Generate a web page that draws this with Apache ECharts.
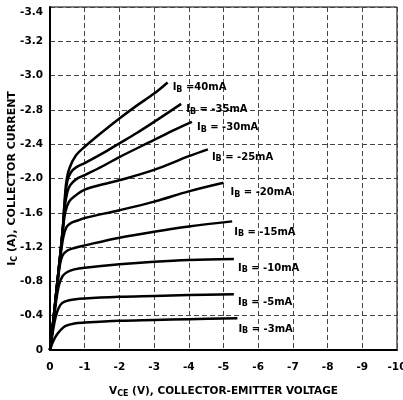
<!DOCTYPE html>
<html>
<head>
<meta charset="utf-8">
<script src="https://cdn.jsdelivr.net/npm/echarts@6/dist/echarts.min.js"></script>
<style>html,body{margin:0;padding:0;background:#fff}#c{width:403px;height:400px}</style>
</head>
<body>
<div id="c"></div>
<script>
// Tick labels as printed on the chart
const xTickLabels = ['0','-1','-2','-3','-4','-5','-6','-7','-8','-9','-10'];
const yTickLabels = ['0','-0.4','-0.8','-1.2','-1.6','-2.0','-2.4','-2.8','-3.0','-3.2','-3.4'];

// Base-current curve names (label text after "I" + subscript "B")
const curveNames = [' =40mA',' = -35mA',' = -30mA',' = -25mA',' = -20mA',' = -15mA',' = -10mA',' = -5mA',' = -3mA'];

// [VCE (V), IC (A)] points
const ib40 = [[0,0],[-0.1,-0.36],[-0.2,-0.75],[-0.3,-1.13],[-0.37,-1.42],[-0.42,-1.73],[-0.47,-1.96],[-0.56,-2.12],[-0.75,-2.27],[-1,-2.37],[-1.5,-2.54],[-2,-2.70],[-2.5,-2.85],[-3,-2.99],[-3.39,-3.12]];
const ib35 = [[0,0],[-0.1,-0.36],[-0.2,-0.75],[-0.3,-1.13],[-0.37,-1.42],[-0.42,-1.70],[-0.5,-1.97],[-0.6,-2.07],[-0.75,-2.13],[-1,-2.18],[-1.5,-2.29],[-2,-2.41],[-2.5,-2.53],[-3,-2.66],[-3.78,-2.87]];
const ib30 = [[0,0],[-0.1,-0.36],[-0.2,-0.75],[-0.3,-1.13],[-0.37,-1.42],[-0.43,-1.68],[-0.5,-1.84],[-0.58,-1.92],[-0.75,-1.99],[-1,-2.04],[-1.5,-2.14],[-2,-2.25],[-3,-2.45],[-3.6,-2.57],[-4.09,-2.66]];
const ib25 = [[0,0],[-0.1,-0.36],[-0.2,-0.75],[-0.3,-1.12],[-0.38,-1.44],[-0.45,-1.62],[-0.55,-1.73],[-0.7,-1.79],[-1,-1.87],[-1.5,-1.93],[-2,-1.98],[-3,-2.10],[-4,-2.26],[-4.55,-2.34]];
const ib20 = [[0,0],[-0.1,-0.35],[-0.2,-0.74],[-0.3,-1.08],[-0.38,-1.31],[-0.47,-1.43],[-0.6,-1.48],[-0.8,-1.51],[-1,-1.54],[-2,-1.63],[-3,-1.73],[-4,-1.85],[-5,-1.95]];
const ib15 = [[0,0],[-0.1,-0.34],[-0.2,-0.71],[-0.28,-0.98],[-0.36,-1.10],[-0.5,-1.16],[-0.7,-1.19],[-1,-1.22],[-2,-1.31],[-3,-1.38],[-4,-1.44],[-5.25,-1.50]];
const ib10 = [[0,0],[-0.1,-0.31],[-0.18,-0.58],[-0.26,-0.76],[-0.36,-0.86],[-0.5,-0.91],[-0.7,-0.94],[-1,-0.96],[-2,-1.00],[-3,-1.03],[-4,-1.05],[-5.3,-1.06]];
const ib5 = [[0,0],[-0.08,-0.21],[-0.16,-0.38],[-0.25,-0.49],[-0.36,-0.55],[-0.55,-0.58],[-1,-0.60],[-2,-0.62],[-3,-0.63],[-4,-0.64],[-5.3,-0.65]];
const ib3 = [[0,0],[-0.05,-0.06],[-0.1,-0.11],[-0.2,-0.18],[-0.3,-0.23],[-0.45,-0.28],[-0.7,-0.31],[-1,-0.32],[-2,-0.34],[-3,-0.35],[-4,-0.36],[-5.4,-0.37]];

const curves = [ib40, ib35, ib30, ib25, ib20, ib15, ib10, ib5, ib3];
const labelOffsets = [[5,5],[5,6],[5,6],[4,8],[7,10],[2,11],[4,9],[4,8],[1,11]];

const FONT = 'DejaVu Sans';
function richSet(size){
  return {
    m: {fontFamily: FONT, fontWeight: 'bold', fontSize: size, color: '#000'},
    s: {fontFamily: FONT, fontWeight: 'bold', fontSize: Math.round(size*0.75), color: '#000', verticalAlign: 'bottom', lineHeight: size + 2}
  };
}

const chart = echarts.init(document.getElementById('c'), null, {renderer: 'canvas'});
chart.setOption({
  animation: false,
  backgroundColor: '#fff',
  grid: {left: 50, right: 6, top: 7, bottom: 50, containLabel: false, outerBoundsMode: 'none',
         show: true, borderColor: '#000', borderWidth: 1, backgroundColor: 'transparent'},
  xAxis: {
    type: 'value', min: -10, max: 0, interval: 1, inverse: true,
    axisLine: {show: true, onZero: false, lineStyle: {color: '#000', width: 2}},
    axisTick: {show: false},
    splitLine: {show: true, lineStyle: {color: '#444', width: 1, type: [5,3]}},
    axisLabel: {
      margin: 12, color: '#000', fontFamily: FONT, fontWeight: 'bold', fontSize: 10.5,
      formatter: v => xTickLabels[Math.round(-v)]
    },
    name: '{m|V}{s|CE}{m| (V), COLLECTOR-EMITTER VOLTAGE}',
    nameLocation: 'middle', nameGap: 35, nameMoveOverlap: false,
    nameTextStyle: {fontFamily: FONT, fontWeight: 'bold', fontSize: 10.5, rich: richSet(10.5)}
  },
  yAxis: {
    type: 'value', min: -4, max: 0, interval: 0.4, inverse: true,
    axisLine: {show: true, onZero: false, lineStyle: {color: '#000', width: 2}},
    axisTick: {show: false},
    splitLine: {show: true, lineStyle: {color: '#444', width: 1, type: [5,3]}},
    axisLabel: {
      margin: 7, color: '#000', fontFamily: FONT, fontWeight: 'bold', fontSize: 10.5,
      verticalAlignMinLabel: 'top',
      formatter: v => yTickLabels[Math.round(-v / 0.4)]
    },
    name: '{m|I}{s|C}{m| (A), COLLECTOR CURRENT}',
    nameLocation: 'middle', nameGap: 31, nameRotate: 90, nameMoveOverlap: false,
    nameTextStyle: {fontFamily: FONT, fontWeight: 'bold', fontSize: 11, rich: richSet(11)}
  },
  series: curves.map((d, i) => ({
    type: 'line',
    name: 'IB' + curveNames[i],
    data: d,
    smooth: 0.35,
    showSymbol: false,
    lineStyle: {color: '#000', width: 2.5},
    endLabel: {
      show: true, distance: 0, align: 'left', verticalAlign: 'middle',
      offset: labelOffsets[i],
      fontFamily: FONT, fontWeight: 'bold', fontSize: 10, color: '#000',
      formatter: () => '{m|I}{s|B}{m|' + curveNames[i] + '}',
      rich: richSet(10)
    }
  }))
});
</script>
</body>
</html>
